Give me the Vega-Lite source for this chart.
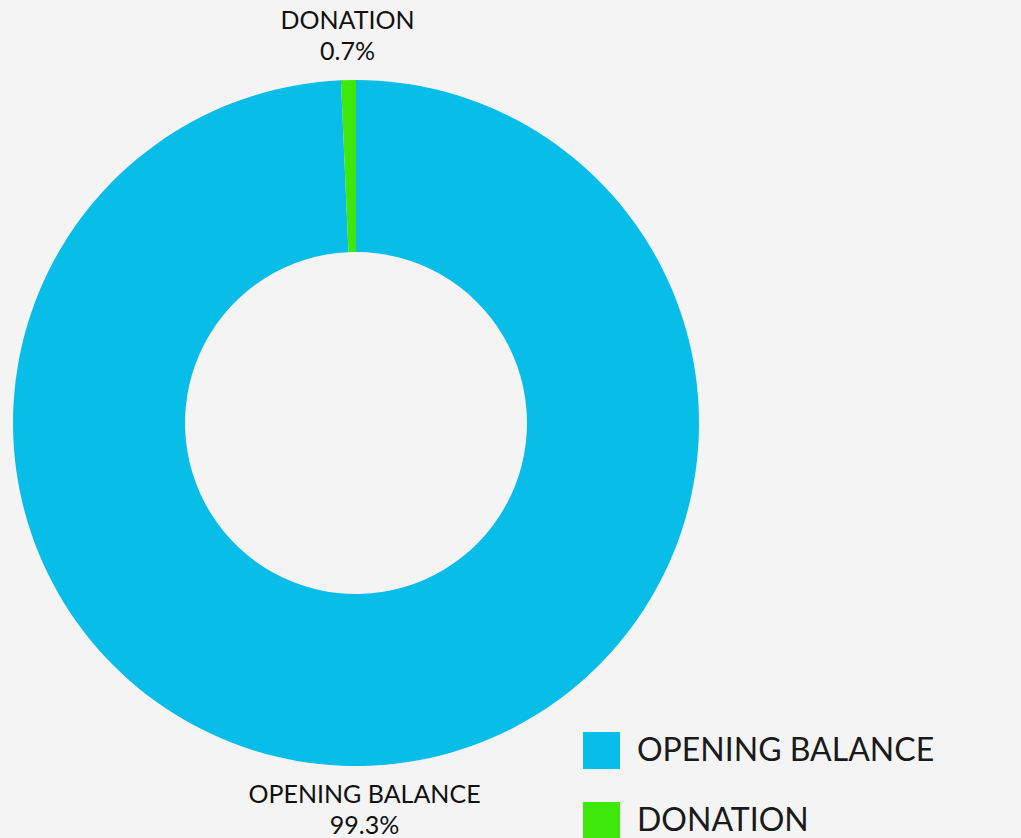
{
  "$schema": "https://vega.github.io/schema/vega-lite/v6.json",
  "width": 712,
  "height": 846,
  "padding": 0,
  "autosize": {"type": "pad"},
  "background": "#f4f4f4",
  "data": {
    "values": [
      {"category": "OPENING BALANCE", "share": 99.3, "rank": 1, "label": "OPENING BALANCE\n99.3%"},
      {"category": "DONATION", "share": 0.7, "rank": 2, "label": "DONATION\n0.7%"}
    ]
  },
  "encoding": {
    "theta": {"field": "share", "type": "quantitative", "stack": true},
    "order": {"field": "rank", "type": "quantitative"}
  },
  "layer": [
    {
      "mark": {"type": "arc", "outerRadius": 343, "innerRadius": 171},
      "encoding": {
        "color": {
          "field": "category",
          "type": "nominal",
          "sort": null,
          "scale": {"domain": ["OPENING BALANCE", "DONATION"], "range": ["#08bde7", "#3fe80b"]},
          "legend": {
            "title": null,
            "orient": "none",
            "legendX": 483,
            "legendY": 632,
            "symbolType": "square",
            "symbolSize": 1369,
            "symbolStrokeWidth": 0,
            "symbolOpacity": 1,
            "rowPadding": 33,
            "labelOffset": 17,
            "labelFont": "Lato",
            "labelFontSize": 32,
            "labelColor": "#1a1a1a",
            "labelLimit": 500,
            "padding": 100
          }
        }
      }
    },
    {
      "mark": {"type": "text", "radius": 387, "dy": -15, "font": "Lato", "fontSize": 25, "color": "#111111", "lineBreak": "\n", "lineHeight": 31, "baseline": "middle", "align": "center"},
      "encoding": {
        "text": {"field": "label", "type": "nominal"}
      }
    }
  ]
}
